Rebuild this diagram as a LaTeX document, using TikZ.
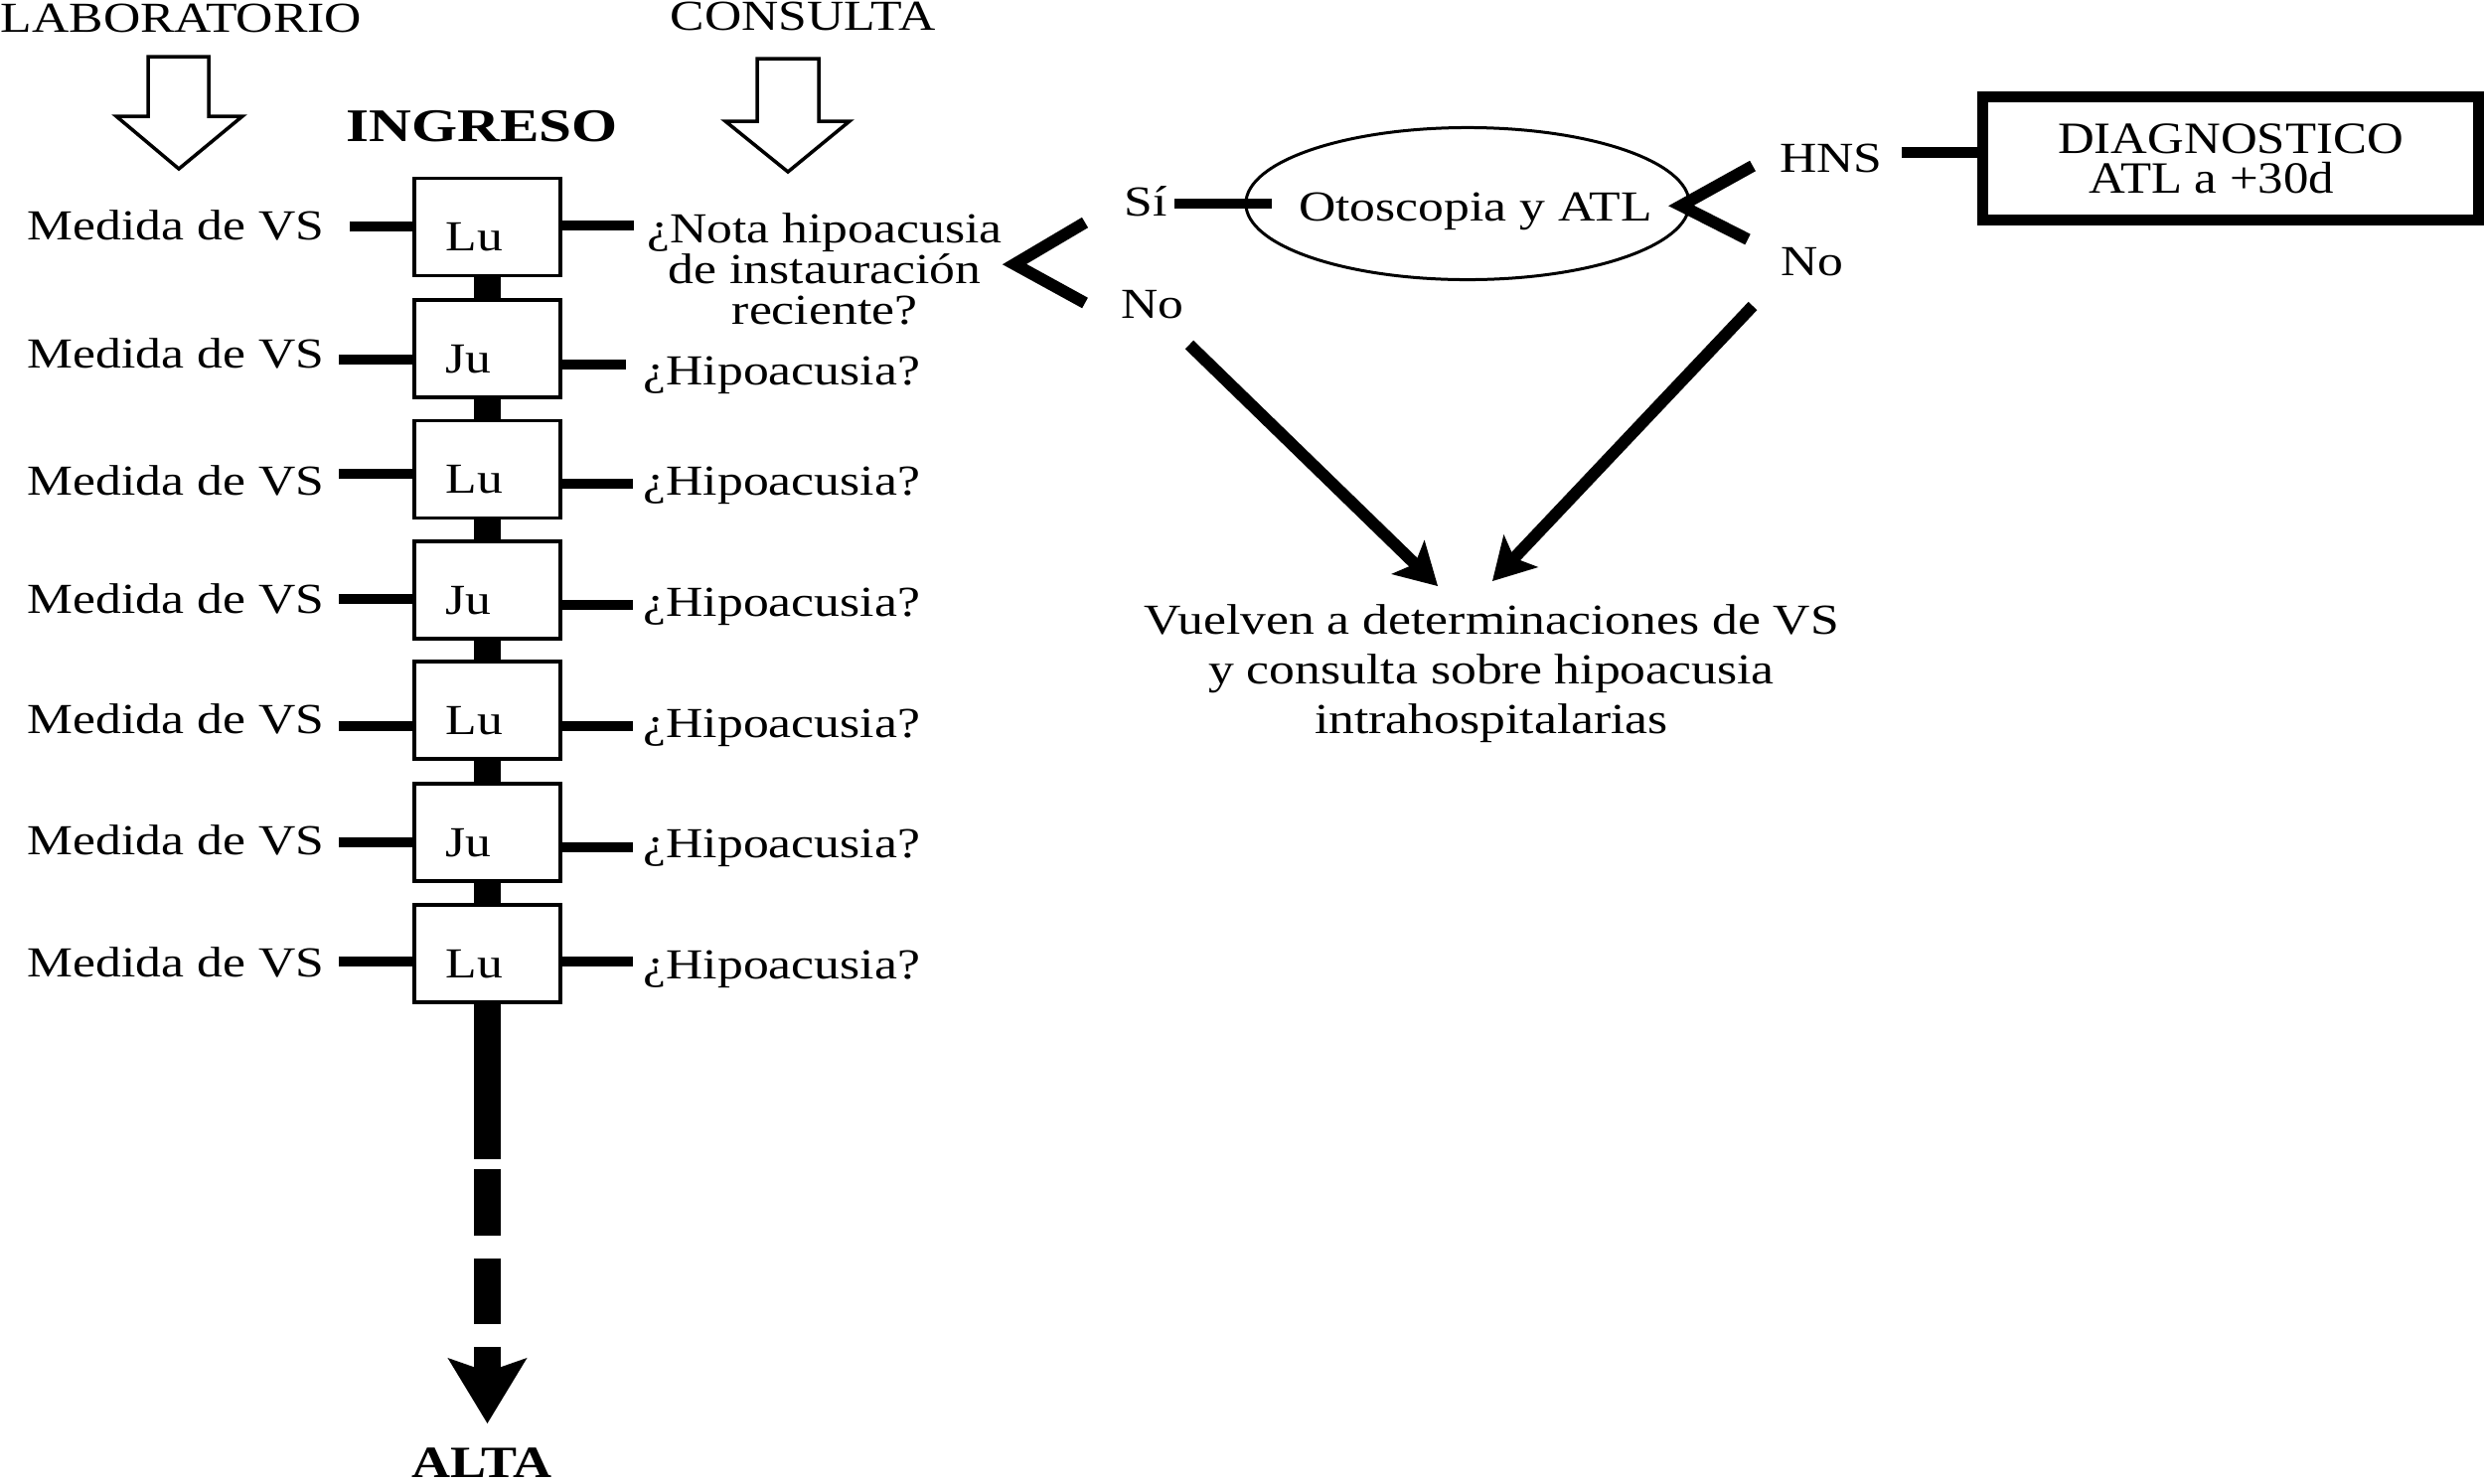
\documentclass[tikz,border=0pt]{standalone}
\usepackage{fontspec}
\setmainfont{Liberation Serif}[FakeStretch=1.2]
\newfontfamily\ingfont{Liberation Serif}[FakeStretch=1.26]
\newfontfamily\diagfont{Liberation Serif}[FakeStretch=1.13]
\usetikzlibrary{arrows.meta,shapes.geometric}
\newcommand\mainsz{\fontsize{12.24pt}{14pt}\selectfont}
\begin{document}
\begin{tikzpicture}[x=0.01cm,y=-0.01cm,
  txt/.style={inner sep=0pt,font=\mainsz},
  daybox/.style={draw,line width=0.035cm,fill=white,minimum width=1.47cm,minimum height=0.98cm,inner sep=0pt},
  conn/.style={line width=0.1cm},
  bracket/.style={line width=0.12cm,line join=miter},
  spine/.style={line width=0.27cm},
  hollow/.style={draw,line width=0.035cm,line join=miter},
  bigarrow/.style={line width=0.12cm,-{Stealth[length=0.42cm,width=0.48cm,inset=0.1cm,line width=0pt]}}
]
\useasboundingbox (0,0) rectangle (2500,1493);

% top labels and hollow arrows
\node[txt,anchor=base west] (lab) at (0,32) {LABORATORIO};
\node[txt,anchor=base] (cons) at (808,30) {CONSULTA};
\draw[hollow] (149,57) -- (210,57) -- (210,117) -- (244,117) -- (180,170) -- (117,117) -- (149,117) -- cycle;
\draw[hollow] (762,59) -- (824,59) -- (824,122) -- (855,122) -- (793,173) -- (730,122) -- (762,122) -- cycle;
\node[anchor=base,inner sep=0pt,font={\ingfont\bfseries\fontsize{13.37pt}{16pt}\selectfont}] (ing) at (485,142) {INGRESO};

% day boxes
\foreach \i/\d/\y in {1/Lu/228.5,2/Ju/351,3/Lu/472.5,4/Ju/594,5/Lu/715,6/Ju/838,7/Lu/960}{
  \node[daybox] (d\i) at (490.5,\y) {};
  \node[txt,anchor=base west] (l\i) at (448,\y+24) {\d};
}
\foreach \i/\j in {1/2,2/3,3/4,4/5,5/6,6/7}{
  \draw[spine] (d\i.south) -- (d\j.north);
}

% left: Medida de VS
\foreach \i/\b/\ly/\lx in {1/241/228/352,2/370/362/341,3/498/477/341,4/617/603/341,5/738/731/341,6/860/848/341,7/983/968/341}{
  \node[txt,anchor=base east] (m\i) at (327,\b) {Medida de VS};
  \coordinate (ml\i) at (\lx,\ly);
  \draw[conn] (ml\i) -- (ml\i -| d\i.west);
}

% right: questions
\foreach \i/\b/\ry/\rx in {2/387/367/630,3/498/487/637,4/620/609/637,5/742/731/637,6/863/853/637,7/985/968/637}{
  \node[txt,anchor=base west] (h\i) at (647,\b) {¿Hipoacusia?};
  \coordinate (hr\i) at (\rx,\ry);
  \draw[conn] (hr\i -| d\i.east) -- (hr\i);
}
\coordinate (hr1) at (638,227);
\draw[conn] (hr1 -| d1.east) -- (hr1);
\node[txt,anchor=north,align=center,font={\fontsize{12.24pt}{11.67pt}\selectfont}] (q1) at (830,214)
  {¿Nota hipoacusia\\de instauración\\reciente?};

% first decision
\coordinate (bq1) at (1092,224);
\coordinate (bqv) at (1021,266);
\coordinate (bq2) at (1092,305);
\draw[bracket] (bq1) -- (bqv) -- (bq2);
\node[txt,anchor=base] (si) at (1153,217) {Sí};
\node[txt,anchor=base] (no1) at (1160,320) {No};
\node[draw,ellipse,line width=0.03cm,minimum width=4.46cm,minimum height=1.53cm,inner sep=0pt] (oto) at (1477,205) {};
\node[txt,anchor=base] (ototxt) at (1485,222) {Otoscopia y ATL};
\coordinate (sil) at (1182,205);
\coordinate (sir) at (1280,205);
\draw[conn] (sil) -- (sir);

% second decision
\coordinate (bo1) at (1764,167);
\coordinate (bov) at (1692,207);
\coordinate (bo2) at (1759,241);
\draw[bracket] (bo1) -- (bov) -- (bo2);
\node[txt,anchor=base] (hns) at (1843,173) {HNS};
\node[txt,anchor=base] (no2) at (1824,277) {No};
\node[draw,line width=0.11cm,minimum width=4.98cm,minimum height=1.23cm,inner sep=0pt,align=center,font={\diagfont\fontsize{12.8pt}{11.38pt}\selectfont}] (diag) at (2245,159.5)
  {DIAGNOSTICO\\ATL a +30d\hspace*{0.38cm}};
\coordinate (hnsl) at (1914,153);
\draw[conn,line width=0.11cm] (hnsl) -- (hnsl -| diag.west);

% return
\node[txt,anchor=north,align=center,font={\fontsize{12.24pt}{14.23pt}\selectfont}] (vuel) at (1501,608)
  {Vuelven a determinaciones de VS\\y consulta sobre hipoacusia\\intrahospitalarias};
\coordinate (a1s) at (1197,347);
\coordinate (a1t) at (1447,590);
\coordinate (a2s) at (1764,308);
\coordinate (a2t) at (1502,585);
\draw[bigarrow] (a1s) -- (a1t);
\draw[bigarrow] (a2s) -- (a2t);

% discharge
\node[txt,anchor=base,font={\bfseries\fontsize{12.8pt}{15pt}\selectfont}] (alta) at (485,1487) {ALTA};
\coordinate (altatip) at (490.5,1433);
\draw[spine,dash pattern=on 44.4pt off 2.85pt on 19.1pt off 6.5pt on 18.8pt off 6.5pt on 200pt,
  -{Stealth[length=0.66cm,width=0.8cm,inset=0.14cm,line width=0pt]}] (d7.south) -- (altatip);
\end{tikzpicture}
\end{document}
